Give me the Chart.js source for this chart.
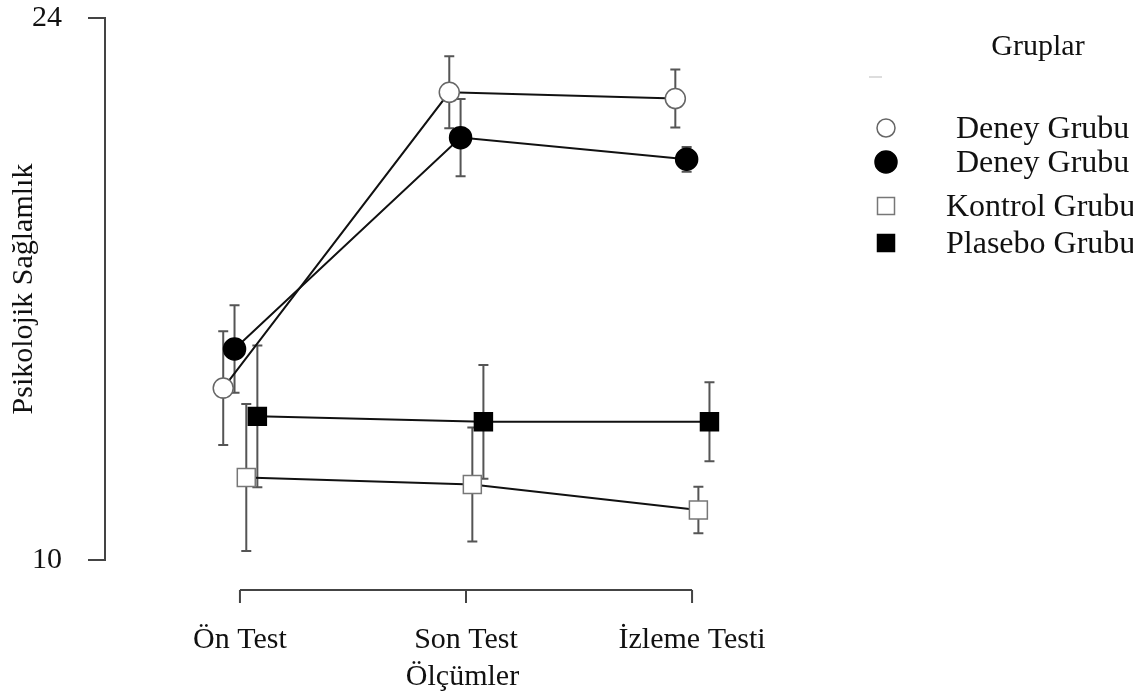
<!DOCTYPE html>
<html>
<head>
<meta charset="utf-8">
<script src="https://cdn.jsdelivr.net/npm/chart.js@4.4.1/dist/chart.umd.min.js"></script>
<style>
  html, body { margin: 0; padding: 0; background: #fff; }
  canvas { display: block; }
</style>
</head>
<body>
<canvas id="chart" width="1133" height="697"></canvas>
<script>
const categories = ["Ön Test", "Son Test", "İzleme Testi"];
const groupLabels = ["Deney Grubu 1", "Deney Grubu 2", "Kontrol Grubu", "Plasebo Grubu"];

const deney1Means = [14.44, 22.08, 21.92];
const deney1Err = [1.47, 0.93, 0.75];
const deney2Means = [15.45, 20.91, 20.35];
const deney2Err = [1.13, 1.0, 0.32];
const kontrolMeans = [12.13, 11.95, 11.29];
const kontrolErr = [1.9, 1.47, 0.6];
const plaseboMeans = [13.71, 13.57, 13.57];
const plaseboErr = [1.83, 1.47, 1.02];

const yTicks = [10, 24];
const legendTitle = "Gruplar";
const xTitle = "Ölçümler";
const yTitle = "Psikolojik Sağlamlık";

const FONT = "'Liberation Serif', 'Times New Roman', serif";
const dodge = [-0.074, -0.024, 0.028, 0.077];

function points(means, k) {
  return means.map((v, i) => ({ x: i + dodge[k], y: v }));
}

function makeSet(k, means, errs, style, radius, fill, border) {
  return {
    label: groupLabels[k],
    data: points(means, k),
    errors: errs,
    borderColor: "#111",
    borderWidth: 2,
    tension: 0,
    pointStyle: style,
    pointRadius: radius,
    pointHoverRadius: radius,
    pointBackgroundColor: fill,
    pointBorderColor: border,
    pointBorderWidth: 1.5
  };
}

// error bars, x axis range line and legend
const extras = {
  id: "extras",
  beforeDatasetsDraw(chart) {
    const { ctx, scales: { x, y } } = chart;
    ctx.save();
    ctx.strokeStyle = "#555";
    ctx.lineWidth = 2;
    chart.data.datasets.forEach(ds => {
      ds.data.forEach((p, j) => {
        const px = x.getPixelForValue(p.x);
        const top = y.getPixelForValue(p.y + ds.errors[j]);
        const bot = y.getPixelForValue(p.y - ds.errors[j]);
        ctx.beginPath();
        ctx.moveTo(px, top); ctx.lineTo(px, bot);
        ctx.moveTo(px - 5, top); ctx.lineTo(px + 5, top);
        ctx.moveTo(px - 5, bot); ctx.lineTo(px + 5, bot);
        ctx.stroke();
      });
    });
    ctx.restore();
  },
  afterDraw(chart) {
    const { ctx, scales: { x }, chartArea } = chart;
    ctx.save();
    // x axis range frame
    const ly = chartArea.bottom + 30;
    const x0 = x.getPixelForValue(0);
    const x2 = x.getPixelForValue(categories.length - 1);
    ctx.strokeStyle = "#444";
    ctx.lineWidth = 2;
    ctx.beginPath();
    ctx.moveTo(x0, ly); ctx.lineTo(x2, ly);
    categories.forEach((c, i) => {
      const px = x.getPixelForValue(i);
      ctx.moveTo(px, ly); ctx.lineTo(px, ly + 13);
    });
    ctx.stroke();

    // legend
    ctx.fillStyle = "#111";
    ctx.font = "30px " + FONT;
    ctx.textBaseline = "middle";
    ctx.textAlign = "center";
    ctx.fillText(legendTitle, 1038, 47);
    ctx.strokeStyle = "#bbb";
    ctx.lineWidth = 1;
    ctx.beginPath();
    ctx.moveTo(869, 77); ctx.lineTo(882, 77);
    ctx.stroke();

    const rowY = [128, 162, 206, 243];
    const mx = 886;
    ctx.textAlign = "left";
    ctx.font = "32px " + FONT;
    chart.data.datasets.forEach((ds, k) => {
      const cy = rowY[k];
      ctx.beginPath();
      if (ds.pointStyle === "circle") {
        ctx.arc(mx, cy, k === 0 ? 9 : 11, 0, Math.PI * 2);
      } else {
        ctx.rect(mx - 8.5, cy - 8.5, 17, 17);
      }
      ctx.fillStyle = ds.pointBackgroundColor;
      ctx.fill();
      ctx.strokeStyle = ds.pointBorderColor;
      ctx.lineWidth = 1.5;
      ctx.stroke();
      ctx.fillStyle = "#111";
      ctx.fillText(ds.label, k < 2 ? 956 : 946, cy + 2);
    });
    ctx.restore();
  }
};

new Chart(document.getElementById("chart"), {
  type: "line",
  data: {
    datasets: [
      makeSet(0, deney1Means, deney1Err, "circle", 10, "#fff", "#666"),
      makeSet(1, deney2Means, deney2Err, "circle", 11, "#000", "#000"),
      makeSet(2, kontrolMeans, kontrolErr, "rect", 12.7, "#fff", "#777"),
      makeSet(3, plaseboMeans, plaseboErr, "rect", 12.7, "#000", "#000")
    ]
  },
  options: {
    responsive: false,
    animation: false,
    devicePixelRatio: 1,
    layout: { padding: { top: 18, right: 313, bottom: 0, left: 0 } },
    plugins: { legend: { display: false }, tooltip: { enabled: false } },
    scales: {
      x: {
        type: "linear",
        min: -0.597,
        max: 2.566,
        afterBuildTicks: s => { s.ticks = categories.map((c, i) => ({ value: i })); },
        afterFit: s => { s.height = 137; s.paddingLeft = 0; s.paddingRight = 0; },
        grid: { display: false, drawTicks: false },
        border: { display: false },
        ticks: {
          padding: 62,
          color: "#111",
          font: { family: FONT, size: 30 },
          maxRotation: 0,
          callback: v => categories[v]
        },
        title: {
          display: true,
          text: xTitle,
          color: "#111",
          font: { family: FONT, size: 30 },
          padding: { top: 0, bottom: 2 }
        }
      },
      y: {
        min: 10,
        max: 24,
        afterBuildTicks: s => { s.ticks = yTicks.map(v => ({ value: v })); },
        afterFit: s => { s.width = 105; s.paddingTop = 0; s.paddingBottom = 0; },
        grid: { drawOnChartArea: false, drawTicks: true, tickLength: 17, color: "#444", lineWidth: 2 },
        border: { display: true, color: "#444", width: 2 },
        ticks: {
          padding: 26,
          color: "#111",
          font: { family: FONT, size: 30 }
        },
        title: {
          display: true,
          text: yTitle,
          color: "#111",
          font: { family: FONT, size: 30 },
          padding: { top: 6, bottom: 0 }
        }
      }
    }
  },
  plugins: [extras]
});
</script>
</body>
</html>
